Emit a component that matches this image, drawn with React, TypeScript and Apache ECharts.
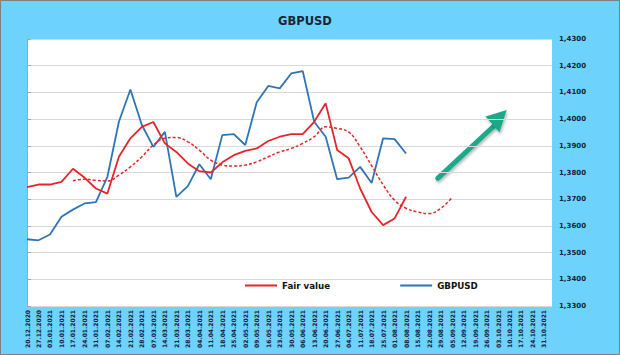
import React, { useEffect, useRef } from "react";
import * as echarts from "echarts";

const CATEGORIES = [
  "20.12.2020", "27.12.2020", "03.01.2021", "10.01.2021", "17.01.2021", "24.01.2021",
  "31.01.2021", "07.02.2021", "14.02.2021", "21.02.2021", "28.02.2021", "07.03.2021",
  "14.03.2021", "21.03.2021", "28.03.2021", "04.04.2021", "11.04.2021", "18.04.2021",
  "25.04.2021", "02.05.2021", "09.05.2021", "16.05.2021", "23.05.2021", "30.05.2021",
  "06.06.2021", "13.06.2021", "20.06.2021", "27.06.2021", "04.07.2021", "11.07.2021",
  "18.07.2021", "25.07.2021", "01.08.2021", "08.08.2021", "15.08.2021", "22.08.2021",
  "29.08.2021", "05.09.2021", "12.09.2021", "19.09.2021", "26.09.2021", "03.10.2021",
  "10.10.2021", "17.10.2021", "24.10.2021", "31.10.2021",
];

const GBPUSD = [
  1.3550, 1.3546, 1.3568, 1.3634, 1.3661, 1.3684, 1.3689, 1.3784, 1.3990, 1.4111,
  1.3978, 1.3896, 1.3952, 1.3709, 1.3749, 1.3831, 1.3775, 1.3940, 1.3944, 1.3903,
  1.4063, 1.4124, 1.4115, 1.4171, 1.4180, 1.3990, 1.3934, 1.3775, 1.3781, 1.3821,
  1.3761, 1.3928, 1.3925, 1.3871,
];

const FAIR_VALUE = [
  1.3745, 1.3755, 1.3755, 1.3765, 1.3814, 1.3781, 1.3740, 1.3721, 1.3859, 1.3928,
  1.3971, 1.3989, 1.3909, 1.3877, 1.3834, 1.3805, 1.3800, 1.3838, 1.3865, 1.3881,
  1.3890, 1.3918, 1.3934, 1.3944, 1.3944, 1.3990, 1.4059, 1.3884, 1.3853, 1.3740,
  1.3652, 1.3603, 1.3628, 1.3709,
];

const FAIR_TREND: (number | null)[] = [
  null, null, null, null, 1.3769, 1.3775, 1.3771, 1.3768, 1.3790, 1.3821,
  1.3859, 1.3903, 1.3928, 1.3931, 1.3915, 1.3884, 1.3846, 1.3828, 1.3824, 1.3828,
  1.3840, 1.3859, 1.3877, 1.3890, 1.3909, 1.3934, 1.3971, 1.3965, 1.3952, 1.3896,
  1.3825, 1.3754, 1.3696, 1.3666, 1.3652, 1.3646, 1.3665, 1.3706,
];

const Y_MIN = 1.33;
const Y_MAX = 1.43;
const Y_STEP = 0.01;

const RED = "#e3262b";
const BLUE = "#2e75b6";
const TEXT = "#17213a";
const FONT = "DejaVu Sans";

export default function App() {
  const ref = useRef<HTMLDivElement>(null);

  useEffect(() => {
    if (!ref.current) return;
    const chart = echarts.init(ref.current, null, { renderer: "svg" });

    const toPairs = (arr: (number | null)[]) =>
      arr.map((v, i) => [i, v]).filter((p) => p[1] !== null);

    chart.setOption({
      animation: false,
      backgroundColor: "#6dd3fd",
      textStyle: { fontFamily: FONT },
      title: {
        text: "GBPUSD",
        left: 273,
        top: 10,
        textStyle: { fontFamily: FONT, fontSize: 11.5, fontWeight: "bold", color: "#1a2533" },
      },
      grid: {
        left: 27,
        right: 68,
        top: 39,
        bottom: 49,
        show: true,
        backgroundColor: "#ffffff",
        borderWidth: 0,
      },
      legend: {
        data: ["Fair value", "GBPUSD"],
        left: 240,
        top: 276,
        icon: "rect",
        itemWidth: 32,
        itemHeight: 2,
        itemGap: 70,
        textStyle: { fontFamily: FONT, fontSize: 8.7, fontWeight: "bold", color: "#111" },
      },
      xAxis: {
        type: "value",
        min: 0,
        max: 45.7,
        interval: 1,
        axisLine: { show: false },
        axisTick: { show: false },
        splitLine: { show: false },
        axisLabel: {
          rotate: 90,
          margin: 4,
          fontSize: 6,
          fontWeight: "bold",
          fontFamily: FONT,
          color: TEXT,
          showMaxLabel: false,
          formatter: (v: number) =>
            Number.isInteger(v) && CATEGORIES[v] ? CATEGORIES[v] : "",
        },
      },
      yAxis: {
        type: "value",
        position: "right",
        min: Y_MIN,
        max: Y_MAX,
        interval: Y_STEP,
        axisLine: { show: true, lineStyle: { color: "#a6a6a6", width: 1 } },
        axisTick: { show: true, length: 4, lineStyle: { color: "#a6a6a6" } },
        splitLine: { show: true, lineStyle: { color: "#d9d9d9", width: 1 } },
        axisLabel: {
          margin: 7,
          fontSize: 7,
          fontWeight: "bold",
          fontFamily: FONT,
          color: TEXT,
          formatter: (v: number) => v.toFixed(4).replace(".", ","),
        },
      },
      series: [
        {
          name: "Fair value",
          type: "line",
          data: toPairs(FAIR_VALUE),
          showSymbol: false,
          symbol: "none",
          lineStyle: { color: RED, width: 1.8 },
          itemStyle: { color: RED },
          z: 3,
        },
        {
          name: "GBPUSD",
          type: "line",
          data: toPairs(GBPUSD),
          showSymbol: false,
          symbol: "none",
          lineStyle: { color: BLUE, width: 1.8 },
          itemStyle: { color: BLUE },
          z: 2,
        },
        {
          name: "Fair value trend",
          type: "line",
          data: toPairs(FAIR_TREND),
          showSymbol: false,
          symbol: "none",
          smooth: 0.4,
          lineStyle: { color: RED, width: 1.5, type: [3, 2] },
          itemStyle: { color: RED },
          z: 3,
        },
      ],
      graphic: [
        {
          type: "rect",
          shape: { x: 0.5, y: 0.5, width: 619, height: 354 },
          style: { fill: "none", stroke: "#7f7f7f", lineWidth: 1 },
          silent: true,
        },
        {
          type: "group",
          silent: true,
          children: [
            {
              type: "line",
              shape: { x1: 437.7, y1: 178.3, x2: 495, y2: 125 },
              style: {
                stroke: "#1fa98a",
                lineWidth: 5,
                lineCap: "round",
                shadowBlur: 3,
                shadowColor: "rgba(0,0,0,0.3)",
                shadowOffsetX: 1,
                shadowOffsetY: 2,
              },
            },
            {
              type: "polygon",
              shape: { points: [[506.7, 110], [485.5, 116.5], [499.5, 132.5]] },
              style: {
                fill: "#1fa98a",
                shadowBlur: 3,
                shadowColor: "rgba(0,0,0,0.3)",
                shadowOffsetX: 1,
                shadowOffsetY: 2,
              },
            },
          ],
        },
      ],
    });

    return () => chart.dispose();
  }, []);

  return (
    <div
      ref={ref}
      style={{ position: "absolute", left: 0, top: 0, width: 620, height: 355 }}
    />
  );
}
